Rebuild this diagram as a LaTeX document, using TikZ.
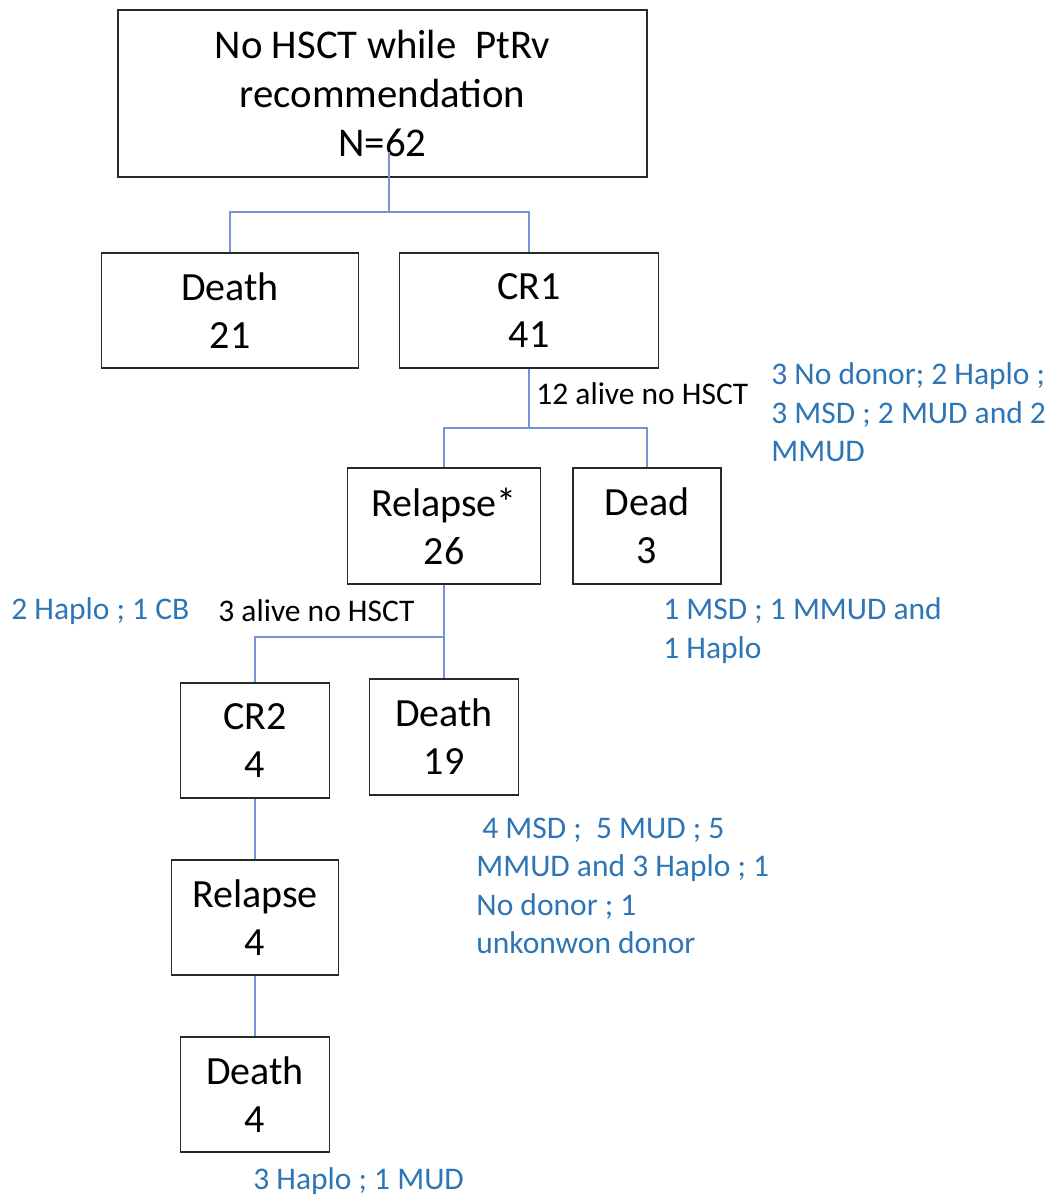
\documentclass[tikz,border=0pt]{standalone}
\usepackage{fontspec}
\setmainfont{Carlito}
\usepackage{tikz}
\definecolor{linkblue}{RGB}{118,148,214}
\definecolor{donorblue}{RGB}{46,117,182}
\definecolor{boxgray}{RGB}{40,40,40}
\tikzset{
  stagebox/.style={draw=boxgray,line width=0.65pt,fill=white,inner sep=0pt,
    align=center,font=\fontsize{20}{24}\selectfont},
  countlabel/.style={anchor=west,inner sep=0pt,align=left,
    font=\fontsize{15.75}{19.25}\selectfont},
  donorlabel/.style={countlabel,text=donorblue},
  link/.style={draw=linkblue,line width=0.7pt},
}

\begin{document}
\begin{tikzpicture}[x=0.5pt,y=-0.5pt]
    \useasboundingbox (0,0) rectangle (1058,1199);
    % boxes
    \node[stagebox,minimum width=264.5pt,minimum height=83.5pt,
      font=\fontsize{20.4}{24.3}\selectfont] (start) at (382.5,93.5)
      {No HSCT while\ \ PtRv\\recommendation\\N=62};
    \node[stagebox,minimum width=128.5pt,minimum height=57.5pt] (death1) at (230,310.5) {Death\\21};
    \node[stagebox,minimum width=129.5pt,minimum height=57.5pt] (cr1) at (529,310.5) {CR1\\41};
    \node[stagebox,minimum width=96.5pt,minimum height=58pt] (relapse1) at (444,526) {Relapse*\\26};
    \node[stagebox,minimum width=74pt,minimum height=58pt] (dead) at (647,526) {Dead\\3};
    \node[stagebox,minimum width=74.5pt,minimum height=57.5pt] (cr2) at (255,740.5) {CR2\\4};
    \node[stagebox,minimum width=74.5pt,minimum height=58pt] (death2) at (444,737) {Death\\19};
    \node[stagebox,minimum width=83.5pt,minimum height=57.5pt] (relapse2) at (255,917.5) {Relapse\\4};
    \node[stagebox,minimum width=74.5pt,minimum height=57.5pt] (death3) at (255,1094.5) {Death\\4};

    % connectors
    \coordinate (startout) at (389,152);
    \coordinate (split1) at (389,212);
    \coordinate (split2) at (529,428);
    \coordinate (split3) at (444,637);
    \draw[link] (startout) -- (split1);
    \draw[link] (split1) -| (death1.north);
    \draw[link] (split1) -| (cr1.north);
    \draw[link] (cr1.south) -- (split2);
    \draw[link] (split2) -| (relapse1.north);
    \draw[link] (split2) -| (dead.north);
    \draw[link] (relapse1.south) -- (death2.north);
    \draw[link] (split3) -| (cr2.north);
    \draw[link] (cr2.south) -- (relapse2.north);
    \draw[link] (relapse2.south) -- (death3.north);

    % side notes
    \node[countlabel] (alive12) at (536,394) {12 alive no HSCT};
    \node[donorlabel] (donor1) at (771,412.5) {3 No donor; 2 Haplo ;\\3 MSD ; 2 MUD and 2\\MMUD};
    \node[donorlabel] (donor2) at (663,630.5) {1 MSD ; 1 MMUD and\\1 Haplo};
    \node[donorlabel] (donor3) at (11,611) {2 Haplo ; 1 CB};
    \node[countlabel] (alive3) at (218,611) {3 alive no HSCT};
    \node[donorlabel] (donor4) at (476,886)
      {\hspace{3pt}4 MSD ;\ \ 5 MUD ; 5\\MMUD and 3 Haplo ; 1\\No donor ; 1\\unkonwon donor};
    \node[donorlabel] (donor5) at (253,1181) {3 Haplo ; 1 MUD};
\end{tikzpicture}
\end{document}
